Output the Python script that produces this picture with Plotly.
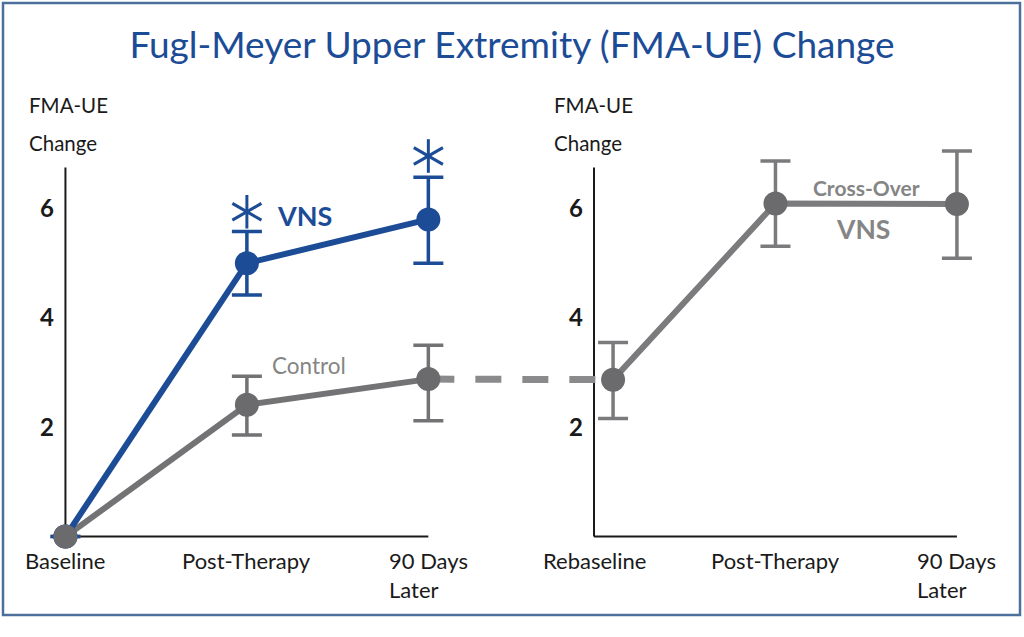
import plotly.graph_objects as go

# ---------------- data ----------------
left_categories = ["Baseline", "Post-Therapy", "90 Days<br>Later"]
right_categories = ["Rebaseline", "Post-Therapy", "90 Days<br>Later"]

vns_values = [0.0, 5.0, 5.8]
vns_err_plus = [0.0, 0.58, 0.77]
vns_err_minus = [0.0, 0.58, 0.80]

control_values = [0.0, 2.41, 2.88]
control_err_plus = [0.0, 0.52, 0.62]
control_err_minus = [0.0, 0.55, 0.76]

crossover_values = [2.87, 6.09, 6.08]
crossover_err_plus = [0.68, 0.78, 0.97]
crossover_err_minus = [0.71, 0.78, 0.99]

sig_idx = [1, 2]            # VNS points marked significant
sig_y = [5.94, 6.96]

y_ticks = [2, 4, 6]

# ---------------- layout helpers ----------------
W, H = 1024, 637
ML, MR, MT, MB = 11, 15, 121, 84
X_RANGE = [-0.3, 5.2]
Y_RANGE = [-0.3, 7.6]
RIGHT_OFFSET = 2.913          # start of the right panel on the shared x scale
RIGHT_PT_SHIFT = [0.105, 0.0, 0.0]
Y_AXIS_TOP = 6.75

def px_x(px):
    return (px - ML) / (W - ML - MR)

def px_y(py):
    return (H - MB - py) / (H - MT - MB)

BLUE = "#1d4c97"
GRAY = "#737375"
GRAY_MK = "#6b6b6d"
GRAY_R = "#7b7b7d"
GRAY_TXT = "#858585"
FONT = "Lato"

left_x = list(range(len(left_categories)))
right_x_lab = [RIGHT_OFFSET + i for i in range(len(right_categories))]
right_x = [RIGHT_OFFSET + i + s for i, s in zip(range(len(right_categories)), RIGHT_PT_SHIFT)]

fig = go.Figure()

# connector dashed line (control 90 days -> rebaseline)
fig.add_trace(go.Scatter(
    x=[left_x[-1], right_x[0]], y=[control_values[-1], crossover_values[0]],
    mode="lines", line=dict(color="#8a8a8c", width=7, dash="26px,21px"),
    hoverinfo="skip", showlegend=False))

# control
fig.add_trace(go.Scatter(
    x=left_x, y=control_values, mode="lines+markers",
    line=dict(color=GRAY, width=6),
    marker=dict(size=24, color=GRAY_MK, opacity=1),
    error_y=dict(type="data", array=control_err_plus, arrayminus=control_err_minus,
                 color=GRAY, thickness=3.5, width=15),
    showlegend=False, cliponaxis=False))

# VNS
fig.add_trace(go.Scatter(
    x=left_x, y=vns_values, mode="lines+markers",
    line=dict(color=BLUE, width=6),
    marker=dict(size=24, color=BLUE, opacity=1),
    error_y=dict(type="data", array=vns_err_plus, arrayminus=vns_err_minus,
                 color=BLUE, thickness=3.5, width=15),
    showlegend=False, cliponaxis=False))

# shared baseline marker on top (gray)
fig.add_trace(go.Scatter(
    x=[left_x[0]], y=[control_values[0]], mode="markers",
    marker=dict(size=24, color=GRAY_MK, opacity=1), showlegend=False, cliponaxis=False))

# significance asterisks: three rotated strokes -> six-armed asterisk
arm_angles = [0, 60, -60]
ax_x, ax_y, ax_a = [], [], []
for i, yv in zip(sig_idx, sig_y):
    for a in arm_angles:
        ax_x.append(left_x[i]); ax_y.append(yv); ax_a.append(a)
fig.add_trace(go.Scatter(x=ax_x, y=ax_y, mode="markers",
                         marker=dict(symbol="line-ns-open", size=24, color=BLUE, opacity=1,
                                     angle=ax_a, line=dict(color=BLUE, width=3)),
                         showlegend=False, cliponaxis=False))

# cross-over VNS (right panel)
fig.add_trace(go.Scatter(
    x=right_x, y=crossover_values, mode="lines+markers",
    line=dict(color=GRAY_R, width=6),
    marker=dict(size=24, color=GRAY_MK, opacity=1),
    error_y=dict(type="data", array=crossover_err_plus, arrayminus=crossover_err_minus,
                 color=GRAY_R, thickness=3.5, width=15),
    showlegend=False, cliponaxis=False, yaxis="y2"))

# ---------------- axes lines as shapes ----------------
shapes = []
for x0, x1 in [(left_x[0], left_x[-1]), (right_x_lab[0], right_x_lab[-1])]:
    shapes.append(dict(type="line", xref="x", yref="y", x0=x0, x1=x1, y0=0, y1=0,
                       line=dict(color="#1a1a1a", width=2), layer="below"))
    shapes.append(dict(type="line", xref="x", yref="y", x0=x0, x1=x0, y0=0, y1=Y_AXIS_TOP,
                       line=dict(color="#1a1a1a", width=2), layer="below"))
# outer frame
shapes.append(dict(type="rect", xref="paper", yref="paper",
                   x0=px_x(3), x1=px_x(1020), y0=px_y(615), y1=px_y(3),
                   line=dict(color="#4d6f9c", width=2.5), fillcolor="rgba(0,0,0,0)"))

annotations = []
# category labels
for xs, cats in [(left_x, left_categories), (right_x_lab, right_categories)]:
    for x, c in zip(xs, cats):
        annotations.append(dict(x=x, y=0, xref="x", yref="y", text=c, showarrow=False,
                                xanchor="center", yanchor="top", yshift=-8, align="left",
                                font=dict(family=FONT, size=22, color="#1a1a1a")))
# y-axis titles
for px0 in (27, 552):
    annotations.append(dict(x=px_x(px0), y=px_y(105), xref="paper", yref="paper", text="FMA-UE",
                            showarrow=False, xanchor="left", yanchor="middle",
                            font=dict(family=FONT, size=20.5, color="#1a1a1a")))
    annotations.append(dict(x=px_x(px0), y=px_y(143), xref="paper", yref="paper", text="Change",
                            showarrow=False, xanchor="left", yanchor="middle",
                            font=dict(family=FONT, size=20.5, color="#1a1a1a")))
# series labels
annotations.append(dict(x=1.32, y=5.87, xref="x", yref="y", text="<b>VNS</b>", showarrow=False,
                        font=dict(family=FONT, size=27, color=BLUE)))
annotations.append(dict(x=1.34, y=3.12, xref="x", yref="y", text="Control", showarrow=False,
                        font=dict(family=FONT, size=22.5, color=GRAY_TXT)))
annotations.append(dict(x=RIGHT_OFFSET + 1.5, y=6.38, xref="x", yref="y", text="<b>Cross-Over</b>",
                        showarrow=False, font=dict(family=FONT, size=21, color=GRAY_TXT)))
annotations.append(dict(x=RIGHT_OFFSET + 1.48, y=5.63, xref="x", yref="y", text="<b>VNS</b>",
                        showarrow=False, font=dict(family=FONT, size=26.5, color=GRAY_TXT)))

ytick_text = [f"<b>{v}</b>" for v in y_ticks]
yaxis_common = dict(range=Y_RANGE, tickvals=y_ticks, ticktext=ytick_text, showgrid=False,
                    zeroline=False, showline=False, ticks="", ticklabelstandoff=11,
                    tickfont=dict(family=FONT, size=24, color="#1a1a1a"))

fig.update_layout(
    width=W, height=H,
    margin=dict(l=ML, r=MR, t=MT, b=MB, pad=0),
    paper_bgcolor="white", plot_bgcolor="white",
    title=dict(text="Fugl-Meyer Upper Extremity (FMA-UE) Change", x=0.5, xanchor="center",
               xref="container", y=1 - 45 / H, yref="container", yanchor="middle",
               font=dict(family=FONT, size=37, color=BLUE)),
    xaxis=dict(range=X_RANGE, visible=False),
    yaxis=dict(anchor="free", position=px_x(65), **yaxis_common),
    yaxis2=dict(anchor="free", overlaying="y", position=px_x(594), side="left", **yaxis_common),
    shapes=shapes, annotations=annotations,
)

fig.write_html("out.html", config={"displayModeBar": False},
               post_script="document.body.style.margin='0';")
